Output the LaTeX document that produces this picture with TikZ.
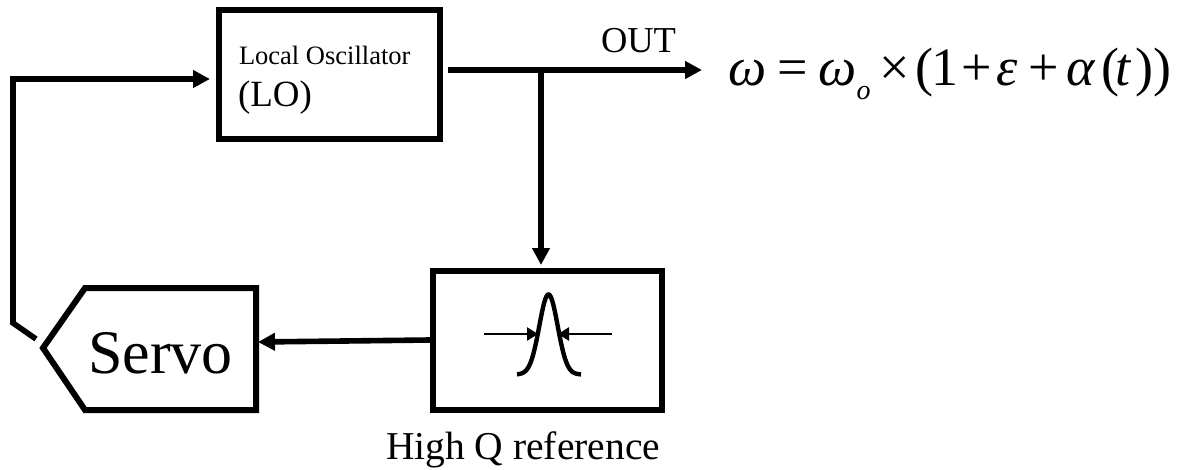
\documentclass[tikz,border=0pt]{standalone}
\usepackage{fontspec}
\setmainfont{Liberation Serif}
\usetikzlibrary{arrows.meta}
\newcommand{\fsz}[1]{\fontsize{#1pt}{#1pt}\selectfont}
\tikzset{
  boxline/.style={draw=black,line width=6pt,line join=miter},
  blockbox/.style={boxline,fill=white,rectangle,inner sep=0pt},
  wire/.style={draw=black,line width=5.6pt},
  flow/.style={wire,-{Triangle[length=17pt,width=17pt]}},
  thinflow/.style={draw=black,line width=2.4pt,-{Triangle[length=11pt,width=13pt]}},
  label/.style={inner sep=0pt,outer sep=0pt,anchor=base west,text=black},
}
\begin{document}
\begin{tikzpicture}[x=1pt,y=-1pt]
\useasboundingbox (0,0) rectangle (1178,469);
% blocks
\node[blockbox,minimum width=221pt,minimum height=129pt] (lo) at (329.5,74.5) {};
\node[blockbox,minimum width=229pt,minimum height=139pt] (ref) at (547.5,340.5) {};
\draw[boxline,fill=white] (256,288) -- (85,288) -- (43,348) -- (85,410) -- (256,410) -- cycle;
% texts
\node[label,font=\fsz{26.5}] (lotext) at (239,64) {Local Oscillator};
\node[label,font=\fsz{37}] (lotext2) at (238,106) {(LO)};
\node[label,font=\fsz{36.5}] (outtext) at (601,52) {OUT};
\node[label,font=\fsz{62}] (servo) at (88,373) {Servo};
\node[label,font=\fsz{39.5}] (reftext) at (386,459) {High Q reference};
\node[label,font=\fsz{54}] (formula) at (728,85) {\textit{ω}\kern11pt=\kern11pt\textit{ω}\raisebox{-14pt}{\fsz{28}\textit{o}}\kern9pt×\kern5pt(\kern-2pt1\kern3pt+\kern5pt\textit{ε}\kern11pt+\kern7pt\textit{α}\kern6pt(\kern-4pt\textit{t}\kern4pt))};
% anchors for connector ends
\coordinate (branch) at (541,70);
\coordinate (outend) at (702,70);
\coordinate (loout) at (448,70);
\coordinate (servoin) at (258,342);
\coordinate (refout) at (430,340);
\coordinate (servoout) at (36,339);
\coordinate (bend1) at (13,323);
\coordinate (bend2) at (13,79);
\coordinate (loin) at (210,79);
\coordinate (refin) at (541,265);
% connectors
\draw[flow] (loout) -- (outend);
\draw[flow] (branch) -- (refin);
\draw[flow] (refout) -- (servoin);
\draw[flow,line join=miter] (servoout) -- (bend1) -- (bend2) -- (loin);
% resonance curve
\draw[line width=4.4pt,line cap=butt,domain=517:581,samples=90,smooth,variable=\t]
  plot ({\t},{374.5-80*exp(-0.5*((\t-548.5)/9.2)*((\t-548.5)/9.2))});
\coordinate (wl) at (484,334);
\coordinate (wlt) at (538,334);
\coordinate (wr) at (612,334);
\coordinate (wrt) at (558,334);
\draw[thinflow] (wl) -- (wlt);
\draw[thinflow] (wr) -- (wrt);
\end{tikzpicture}
\end{document}
